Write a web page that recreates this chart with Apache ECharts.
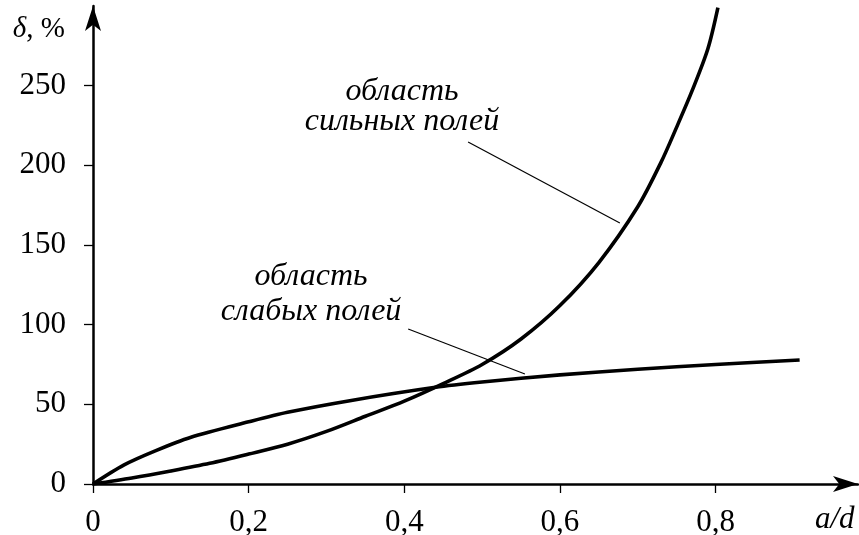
<!DOCTYPE html>
<html>
<head>
<meta charset="utf-8">
<script src="https://cdn.jsdelivr.net/npm/echarts@6/dist/echarts.min.js"></script>
<style>
html,body{margin:0;padding:0;background:#fff;}
#chart{width:859px;height:535px;}
</style>
</head>
<body>
<div id="chart"></div>
<script>
// ---- data ----
const xTicks = [0, 0.2, 0.4, 0.6, 0.8];
const yTicks = [0, 50, 100, 150, 200, 250];

// "область сильных полей" curve
const strongX = [0, 0.05, 0.1, 0.15, 0.2, 0.25, 0.3, 0.35, 0.4, 0.45, 0.5, 0.55, 0.6, 0.65, 0.7, 0.73, 0.75, 0.77, 0.79, 0.803];
const strongY = [0, 3.8, 8.2, 13, 18.8, 25, 33, 42.5, 52, 63, 75, 91, 112, 139, 174, 202, 224, 247, 273, 299];

// "область слабых полей" curve
const weakX = [0, 0.04, 0.08, 0.125, 0.2, 0.25, 0.33, 0.44, 0.5, 0.6, 0.7, 0.8, 0.908];
const weakY = [0, 12, 20.8, 29.2, 39, 45, 52.3, 60.7, 64, 68.5, 72, 75, 77.8];

// leader lines of the annotations (data coordinates)
const leaderStrong = [[0.482, 214.7], [0.677, 163.8]];
const leaderWeak = [[0.405, 97.3], [0.555, 69]];

const annoStrong = ['область', 'сильных полей'];
const annoWeak = ['область', 'слабых полей'];

const zip = (xs, ys) => xs.map((x, i) => [x, ys[i]]);
const SERIF = '"Liberation Serif", "Times New Roman", serif';

const chart = echarts.init(document.getElementById('chart'), null, {renderer: 'canvas'});

const axisCommon = {
  axisLine: {show: true, onZero: true, lineStyle: {color: '#000', width: 2.5},
             symbol: ['none', 'arrow'], symbolSize: [12, 25]},
  axisTick: {show: true, length: 9, lineStyle: {color: '#000', width: 1.3}},
  splitLine: {show: false},
};

chart.setOption({
  animation: false,
  backgroundColor: '#fff',
  grid: {left: 93, right: 1, top: 6, bottom: 51, containLabel: false, outerBoundsMode: 'none'},
  xAxis: Object.assign({}, axisCommon, {
    type: 'value', min: 0, max: 0.983,
    axisTick: Object.assign({}, axisCommon.axisTick, {customValues: xTicks}),
    axisLabel: {customValues: xTicks, margin: 23, color: '#000', fontFamily: SERIF, fontSize: 31,
                formatter: v => String(+v.toFixed(2)).replace('.', ',')}
  }),
  yAxis: Object.assign({}, axisCommon, {
    type: 'value', min: 0, max: 300,
    axisTick: Object.assign({}, axisCommon.axisTick, {customValues: yTicks}),
    axisLabel: {customValues: yTicks, margin: 27, color: '#000', fontFamily: SERIF, fontSize: 31,
                formatter: v => String(v)}
  }),
  series: [
    {type: 'line', data: zip(strongX, strongY), smooth: 0.3, showSymbol: false,
     lineStyle: {color: '#000', width: 3.6}, silent: true, clip: true},
    {type: 'line', data: zip(weakX, weakY), smooth: 0.3, showSymbol: false,
     lineStyle: {color: '#000', width: 3.6}, silent: true, clip: true},
    {type: 'line', data: leaderStrong, showSymbol: false, lineStyle: {color: '#000', width: 1.2}, silent: true},
    {type: 'line', data: leaderWeak, showSymbol: false, lineStyle: {color: '#000', width: 1.2}, silent: true}
  ],
  graphic: [
    {type: 'text', x: 65, y: 29, style: {text: '{i|δ}, %', fill: '#000', font: '29px ' + SERIF,
      align: 'right', verticalAlign: 'middle',
      rich: {i: {fontStyle: 'italic', fontFamily: SERIF, fontSize: 29, fill: '#000'}}}},
    {type: 'text', x: 815, y: 520, style: {text: 'a/d', fill: '#000', font: 'italic 31px ' + SERIF,
      align: 'left', verticalAlign: 'middle'}},
    {type: 'text', x: 402, y: 92, style: {text: annoStrong[0], fill: '#000', font: 'italic 32px ' + SERIF,
      align: 'center', verticalAlign: 'middle'}},
    {type: 'text', x: 402, y: 122, style: {text: annoStrong[1], fill: '#000', font: 'italic 32px ' + SERIF,
      align: 'center', verticalAlign: 'middle'}},
    {type: 'text', x: 311, y: 277, style: {text: annoWeak[0], fill: '#000', font: 'italic 32px ' + SERIF,
      align: 'center', verticalAlign: 'middle'}},
    {type: 'text', x: 311, y: 312, style: {text: annoWeak[1], fill: '#000', font: 'italic 32px ' + SERIF,
      align: 'center', verticalAlign: 'middle'}}
  ]
});
</script>
</body>
</html>
